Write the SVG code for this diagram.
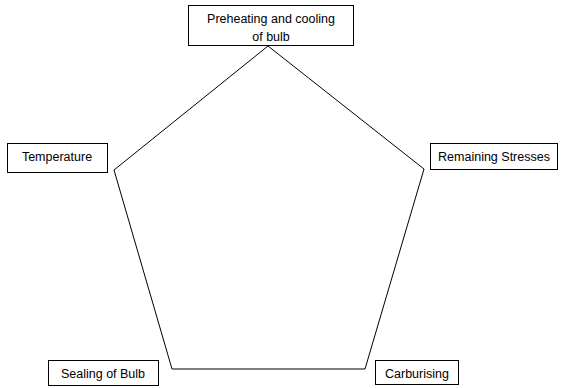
<svg xmlns="http://www.w3.org/2000/svg" width="561" height="388" viewBox="0 0 561 388">
<style>
.box{fill:#fff;stroke:#000;stroke-width:1}
.lbl{font-family:"Liberation Sans",Arial,sans-serif;font-size:12.5px;fill:#000;text-anchor:middle}
.edge{fill:none;stroke:#000;stroke-width:1}
</style>
<rect width="561" height="388" fill="#fff"/>
<g id="connectors">
<polygon class="edge" points="268,46 424,169 365,369 172,369 114,170"/>
</g>
<g id="n1"><rect class="box" x="188.5" y="5.5" width="165" height="40"/><text class="lbl" x="271" y="23">Preheating and cooling</text><text class="lbl" x="271" y="41">of bulb</text></g>
<g id="n2"><rect class="box" x="7.5" y="143.5" width="100" height="29"/><text class="lbl" x="57" y="161">Temperature</text></g>
<g id="n3"><rect class="box" x="430.5" y="143.5" width="127" height="26"/><text class="lbl" x="494" y="161">Remaining Stresses</text></g>
<g id="n4"><rect class="box" x="48.5" y="360.5" width="110" height="25"/><text class="lbl" x="103" y="378">Sealing of Bulb</text></g>
<g id="n5"><rect class="box" x="375.5" y="360.5" width="83" height="24"/><text class="lbl" x="417" y="378">Carburising</text></g>
</svg>
